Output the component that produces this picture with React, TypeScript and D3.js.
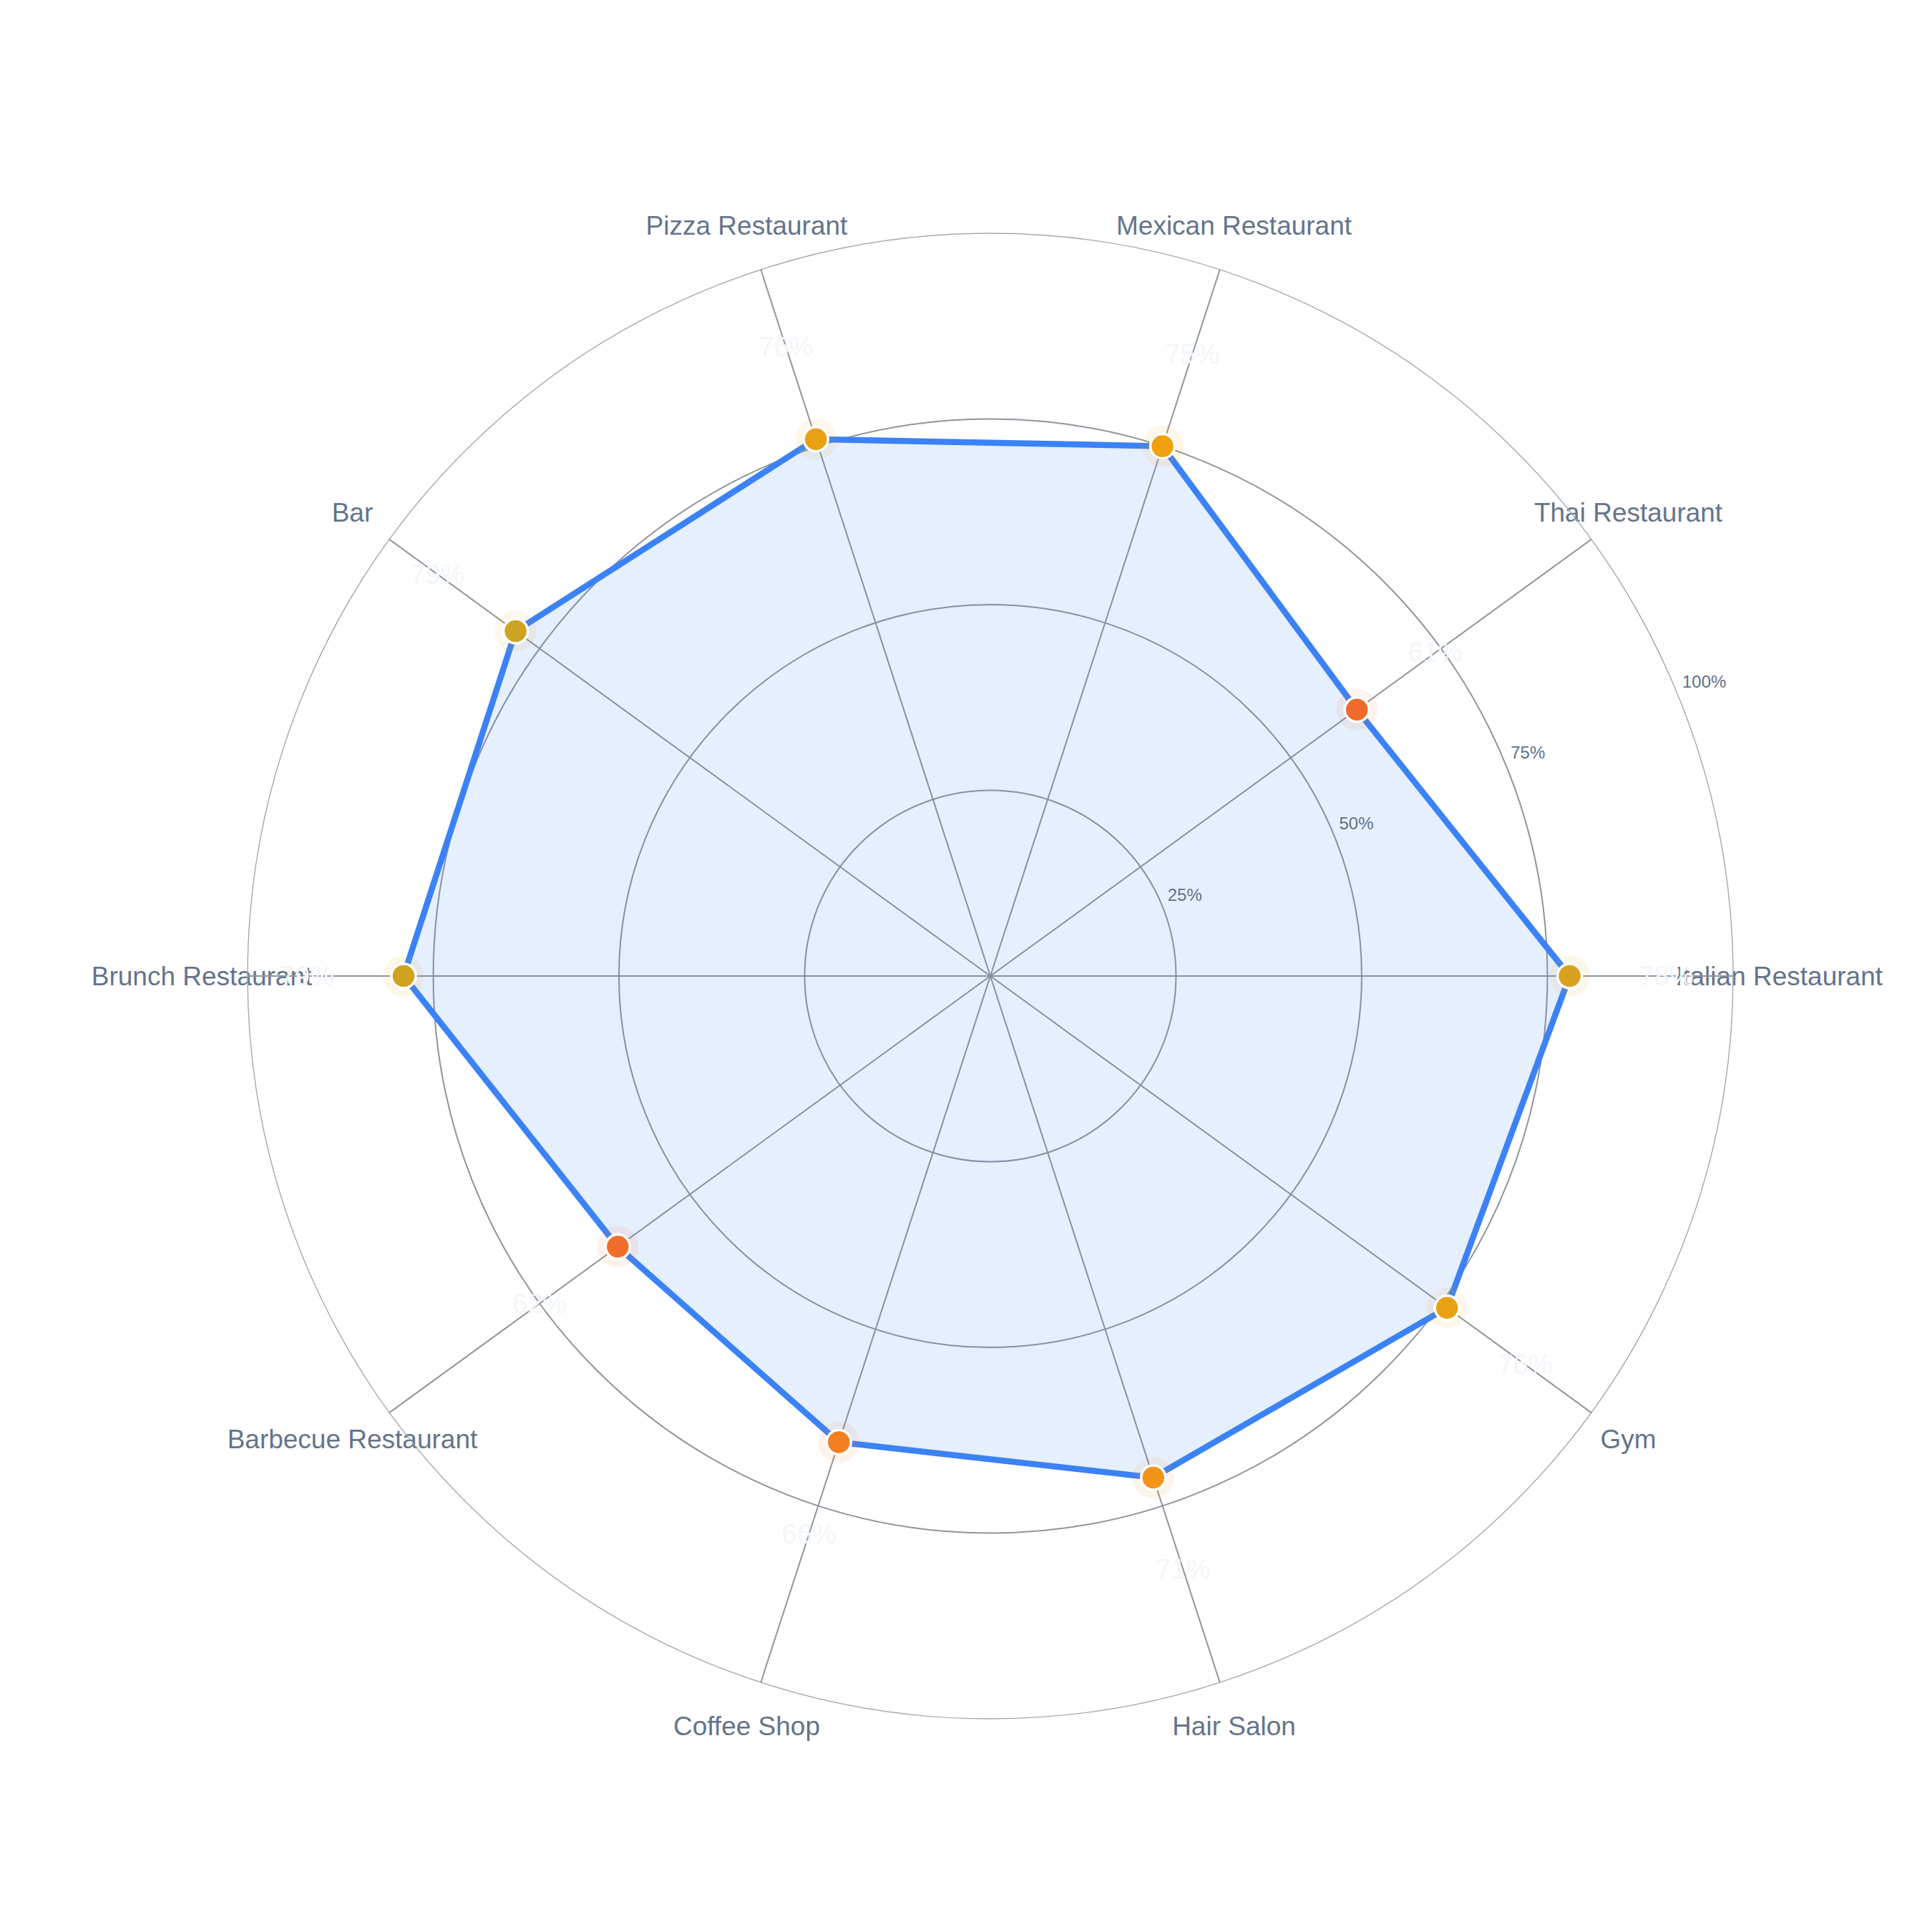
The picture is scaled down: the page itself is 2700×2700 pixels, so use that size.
import React from 'react';
import * as d3 from 'd3';

// chart data
const categories = [
  'Italian Restaurant',
  'Thai Restaurant',
  'Mexican Restaurant',
  'Pizza Restaurant',
  'Bar',
  'Brunch Restaurant',
  'Barbecue Restaurant',
  'Coffee Shop',
  'Hair Salon',
  'Gym',
];
const values = [78, 61, 75, 76, 79, 79, 62, 66, 71, 76];
const radialTicks = [25, 50, 75, 100];

const W = 2700;
const H = 2700;
const cx = 1384;
const cy = 1364;
const R = 1038;
const FONT = '"Liberation Sans", Arial, Helvetica, sans-serif';

export default function App() {
  const r = d3.scaleLinear().domain([0, 100]).range([0, R]);
  const n = categories.length;
  // angle measured counter-clockwise from east
  const theta = (i: number) => (i * 2 * Math.PI) / n;
  const px = (i: number, rad: number) => cx + rad * Math.cos(theta(i));
  const py = (i: number, rad: number) => cy - rad * Math.sin(theta(i));

  const markerColor = d3
    .scaleLinear<string>()
    .domain([61, 70, 75, 79])
    .range(['#f06a2b', '#f4901a', '#f1a00e', '#cea322'])
    .clamp(true);

  const radar = d3
    .lineRadial<number>()
    .angle((_, i) => Math.PI / 2 - theta(i))
    .radius((d) => r(d))
    .curve(d3.curveLinearClosed);

  const tickAngle = (22.5 * Math.PI) / 180;

  return (
    <svg
      width={W}
      height={H}
      style={{ position: 'absolute', left: 0, top: 0, background: '#ffffff' }}
      fontFamily={FONT}
    >
      <rect width={W} height={H} fill="#ffffff" />

      {/* category labels */}
      {categories.map((c, i) => (
        <text
          key={c}
          x={px(i, 1102)}
          y={py(i, 1102)}
          textAnchor="middle"
          dominantBaseline="central"
          fontSize={37}
          fill="#64748b"
        >
          {c}
        </text>
      ))}

      {/* rings */}
      {radialTicks.map((t) => (
        <circle
          key={t}
          cx={cx}
          cy={cy}
          r={r(t)}
          fill="none"
          stroke={t === 100 ? '#a4a8b0' : '#8f949c'}
          strokeWidth={t === 100 ? 1.4 : 2}
        />
      ))}

      {/* spokes */}
      {categories.map((c, i) => (
        <line
          key={'s' + c}
          x1={cx}
          y1={cy}
          x2={px(i, R)}
          y2={py(i, R)}
          stroke="#8f949c"
          strokeWidth={2}
        />
      ))}

      {/* faint value labels */}
      {values.map((v, i) => (
        <text
          key={'v' + i}
          x={px(i, r(v) + 135)}
          y={py(i, r(v) + 135)}
          textAnchor="middle"
          dominantBaseline="central"
          fontSize={38}
          fill="#f3f6f9"
        >
          {v}%
        </text>
      ))}

      {/* polygon */}
      <path
        d={radar(values) || ''}
        transform={`translate(${cx},${cy})`}
        fill="#3b82f6"
        fillOpacity={0.13}
        stroke="#3b82f6"
        strokeWidth={8.5}
        strokeLinejoin="miter"
      />

      {/* markers */}
      {values.map((v, i) => (
        <g key={'m' + i} transform={`translate(${px(i, r(v))},${py(i, r(v))})`}>
          <circle r={29} fill={markerColor(v)} fillOpacity={0.09} />
          <circle r={17} fill={markerColor(v)} stroke="#ffffff" strokeWidth={3.5} />
        </g>
      ))}

      {/* radial tick labels */}
      {radialTicks.map((t) => (
        <text
          key={'t' + t}
          x={cx + r(t) * Math.cos(tickAngle) + 8}
          y={cy - r(t) * Math.sin(tickAngle) - 6}
          textAnchor="start"
          fontSize={24}
          fill="#5f6f89"
        >
          {t}%
        </text>
      ))}
    </svg>
  );
}
